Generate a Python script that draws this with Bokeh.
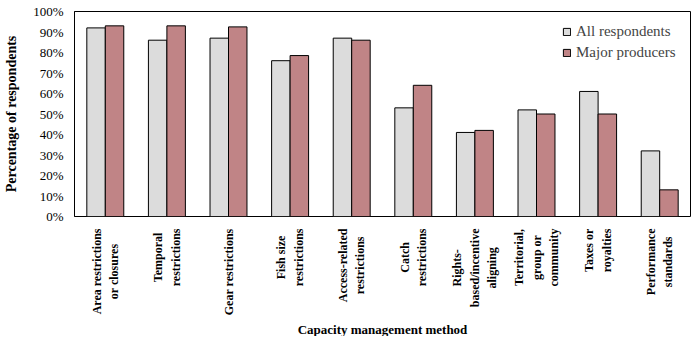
import math
from bokeh.plotting import figure
from bokeh.layouts import column
from bokeh.core.properties import value
from bokeh.models import (ColumnDataSource, FactorRange, Range1d, FixedTicker, PrintfTickFormatter,
                          Legend, LegendItem, Title, Text)
from bokeh.transform import dodge
from bokeh.embed import file_html
from bokeh.resources import INLINE

categories = [
    "Area restrictions\nor closures",
    "Temporal\nrestrictions",
    "Gear restrictions",
    "Fish size\nrestrictions",
    "Access-related\nrestrictions",
    "Catch\nrestrictions",
    "Rights-\nbased/incentive\naligning",
    "Territorial,\ngroup or\ncommunity",
    "Taxes or\nroyalties",
    "Performance\nstandards",
]
all_respondents = [92, 86, 87, 76, 87, 53, 41, 52, 61, 32]
major_producers = [93, 93, 92.5, 78.5, 86, 64, 42, 50, 50, 13]
y_ticks = [0, 10, 20, 30, 40, 50, 60, 70, 80, 90, 100]

src = ColumnDataSource(dict(cat=categories, a=all_respondents, m=major_producers))
xr = FactorRange(*categories)
serif = "Liberation Serif"

p = figure(width=700, height=223, x_range=xr, y_range=Range1d(0, 100),
           output_backend="svg", toolbar_location=None,
           min_border_left=74, min_border_right=10, min_border_top=11, min_border_bottom=7)

r1 = p.vbar(x=dodge("cat", -0.15, range=xr), top="a", width=0.3, source=src,
            fill_color="#dcdcdc", line_color="black", line_width=1)
r2 = p.vbar(x=dodge("cat", 0.15, range=xr), top="m", width=0.3, source=src,
            fill_color="#c08486", line_color="black", line_width=1)

p.xgrid.grid_line_color = None
p.ygrid.grid_line_color = None
p.outline_line_color = "black"
p.outline_line_alpha = 1
p.background_fill_color = "white"
p.xaxis.visible = False

ya = p.yaxis[0]
ya.ticker = FixedTicker(ticks=y_ticks)
ya.formatter = PrintfTickFormatter(format="%d%%")
ya.major_tick_out = 0
ya.major_tick_in = 0
ya.minor_tick_out = 0
ya.minor_tick_in = 0
ya.major_label_standoff = 11
ya.major_label_text_font = serif
ya.major_label_text_font_size = "13px"
ya.major_label_text_color = "black"
ya.axis_line_color = "black"
ya.axis_label = "Percentage of respondents"
ya.axis_label_text_font = serif
ya.axis_label_text_font_style = "bold"
ya.axis_label_text_font_size = "14px"
ya.axis_label_text_color = "black"
ya.axis_label_standoff = 11

legend = Legend(items=[LegendItem(label="All respondents", renderers=[r1]),
                       LegendItem(label="Major producers", renderers=[r2])],
                location=(488, 155))
legend.border_line_color = None
legend.background_fill_alpha = 0
legend.label_text_font = serif
legend.label_text_font_size = "15px"
legend.glyph_width = 9
legend.glyph_height = 9
legend.spacing = 4
legend.label_standoff = 5
legend.margin = 0
legend.padding = 0
p.add_layout(legend)

# category labels in a strip below the chart, sharing the x range
p2 = figure(width=700, height=113, x_range=xr, y_range=Range1d(0, 1),
            output_backend="svg", toolbar_location=None,
            min_border_left=74, min_border_right=10, min_border_top=5, min_border_bottom=0)
p2.axis.visible = False
p2.grid.grid_line_color = None
p2.outline_line_color = None

lsrc = ColumnDataSource(dict(cat=categories, y=[1] * len(categories)))
glyph = Text(x="cat", y="y", text="cat", angle=math.pi / 2,
             anchor=value("center_right"), text_align="center",
             text_font=value(serif), text_font_style="bold", text_font_size="12px",
             text_color="black", text_line_height=1.25)
p2.add_glyph(lsrc, glyph)

p2.add_layout(Title(text="Capacity management method", align="center",
                    text_font=serif, text_font_style="bold", text_font_size="13px",
                    text_color="black", standoff=0, offset=0), "below")

layout = column(p, p2, spacing=0)
open("out.html", "w").write(file_html(layout, INLINE))
